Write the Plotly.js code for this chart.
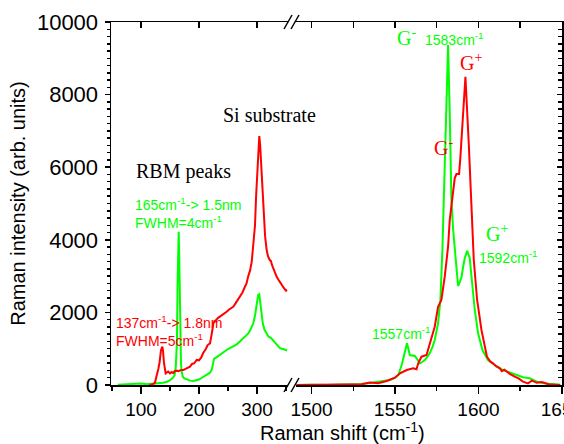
<!DOCTYPE html>
<html>
<head>
<meta charset="utf-8">
<script src="https://cdn.plot.ly/plotly-3.0.1.min.js"></script>
<style>html,body{margin:0;padding:0;background:#fff;}#chart{width:564px;height:444px;}</style>
</head>
<body>
<div id="chart"></div>
<script>
// ---- Data ----
// Low-frequency segment (RBM + Si substrate), green spectrum
const greenLowX = [60,70,80,90,100,110,120,130,138,145,150,155,158,160,162,163,164,165,166,167,168,169,170,172,175,179,185,190,195,200,205,210,215,219,222,224,226,230,236,240,245,250,255,260,265,270,275,280,285,290,294,297,300,302,304,306,308,310,313,316,320,324,328,331,335,340,345,350,352];
const greenLowY = [10,20,40,30,40,20,30,40,60,90,130,200,270,500,1200,2700,3800,4220,3500,2400,1100,600,380,230,180,150,120,110,130,150,200,250,310,340,420,620,720,760,830,880,940,990,1030,1070,1120,1190,1260,1330,1420,1560,1720,1950,2300,2480,2500,2250,1950,1700,1520,1430,1330,1300,1230,1190,1120,1010,990,960,950];
// Low-frequency segment, red spectrum
const redLowX = [115,120,124,127,130,132,134.5,136.8,138,139.7,141,142.6,145,147,150,153,155.5,158,161.5,165,168,172.8,176,180,184.5,188,192,196,200,204,207,212,215,219,221,223,224.7,227,230,233,236,240,244,247.7,252,255,259,263,267,270.7,275,279,282,285,288,291,293,296.6,298.5,300.5,302,304,305.5,307,308,310,312,314,316.7,319,322,324,326,328,331,334,337,339.7,342,345,348,350,352];
const redLowY = [0,20,60,230,450,620,960,1055,950,600,420,320,350,370,320,360,330,380,395,380,410,413,440,480,505,580,600,690,680,760,873,1000,1100,1148,1300,1500,1700,1760,1800,1850,1882,1950,1990,2019,2080,2120,2157,2250,2350,2433,2550,2700,2800,3000,3150,3400,3700,4400,5200,5900,6500,6860,6600,6100,5900,5200,4545,4100,3719,3550,3444,3420,3300,3214,3076,2980,2900,2846,2780,2700,2636,2600,2617];
// High-frequency segment (G band), green spectrum
const greenHighX = [1491,1500,1510,1520,1530,1537,1542,1547,1550,1552,1554,1555.5,1557.2,1558.9,1560.5,1561.9,1563.5,1564.9,1566.5,1567.9,1569.5,1570.8,1572.5,1573.8,1575.8,1577.2,1578.4,1579.2,1580.3,1581.8,1582.8,1583.8,1584.8,1585.8,1586.8,1587.8,1588.9,1589.9,1590.8,1591.8,1593.2,1594.8,1595.6,1596.4,1597.8,1599.8,1602.4,1605.7,1609.8,1614.7,1620.7,1626.7,1630.7,1635,1640,1645,1649];
const greenHighY = [0,10,0,20,30,70,100,138,200,275,550,850,1148,826,810,799,700,597,640,689,780,873,1050,1240,1700,2342,3719,5096,7000,9366,7500,5096,4300,3719,3100,2727,2850,2983,3250,3490,3700,3490,3100,2708,2066,1424,964,689,551,413,322,212,184,90,40,20,10];
// High-frequency segment, red spectrum
const redHighX = [1491,1500,1510,1520,1530,1535,1540,1545,1547,1550,1553,1557,1560.9,1562.9,1563.9,1565.9,1568.9,1570.8,1573.8,1575.8,1577.8,1579.8,1581.8,1582.8,1583.8,1584.8,1585.8,1586.8,1588.4,1589.2,1590.8,1592.2,1594.2,1595.8,1597.2,1599.2,1601.8,1605.1,1607,1608.7,1610.5,1612.8,1614,1615.5,1616.8,1619,1621.7,1624,1626.7,1629.7,1632,1635,1638,1642,1646,1649];
const redHighY = [0,0,10,0,20,70,50,110,138,200,322,413,460,432,597,780,826,1148,1606,2157,2342,2983,3810,4545,4900,5200,5700,5810,5810,6290,7490,8490,6650,4950,3444,2342,1515,780,650,597,520,460,380,420,367,300,230,180,92,46,120,60,80,20,10,0];

// Axis title texts
const yTitle = 'Raman intensity (arb. units)';
const xTitle = 'Raman shift (cm<sup>-1</sup>)';

const GREEN = '#00ff00';
const RED = '#ff0000';
const SANS = 'Liberation Sans, Arial, sans-serif';
const SERIF = 'Liberation Serif, Times New Roman, serif';

const traces = [
  {x: greenLowX, y: greenLowY, xaxis: 'x', yaxis: 'y', mode: 'lines', line: {color: GREEN, width: 2}, hoverinfo: 'skip'},
  {x: greenHighX, y: greenHighY, xaxis: 'x2', yaxis: 'y', mode: 'lines', line: {color: GREEN, width: 2}, hoverinfo: 'skip'},
  {x: redLowX, y: redLowY, xaxis: 'x', yaxis: 'y', mode: 'lines', line: {color: RED, width: 2}, hoverinfo: 'skip'},
  {x: redHighX, y: redHighY, xaxis: 'x2', yaxis: 'y', mode: 'lines', line: {color: RED, width: 2}, hoverinfo: 'skip'},
  // empty traces so that the mirrored frame axes (top / right) get drawn
  {x: [], y: [], xaxis: 'x3', yaxis: 'y', mode: 'lines', hoverinfo: 'skip'},
  {x: [], y: [], xaxis: 'x4', yaxis: 'y', mode: 'lines', hoverinfo: 'skip'},
  {x: [], y: [], xaxis: 'x2', yaxis: 'y2', mode: 'lines', hoverinfo: 'skip'}
];

const L = 111, R = 562, T = 22, B = 385;
const W = R - L, H = B - T;
const leftEnd = (288 - L) / W;
const rightStart = (296 - L) / W;
const lowRange = [48.3, 353.5];
const highRange = [1490.7, 1650.05];

const axBase = {
  showline: true, linecolor: '#000', linewidth: 1.5, showgrid: false, zeroline: false,
  tickcolor: '#000', tickwidth: 1.5, exponentformat: 'none', separatethousands: false
};

function px(x){ return (x - L) / W; }
function py(y){ return (B - y) / H; }

const breakShapes = [];
[[B, 7], [T, 7]].forEach(([yc, h]) => {
  [[284, 292], [291, 299]].forEach(([x0, x1]) => {
    breakShapes.push({type: 'line', xref: 'paper', yref: 'paper',
      x0: px(x0), y0: py(yc + h), x1: px(x1), y1: py(yc - h),
      line: {color: '#000', width: 1.5}});
  });
});

function ann(text, x, y, xref, color, font, size, xanchor) {
  return {text: text, x: x, y: y, xref: xref, yref: 'y', showarrow: false,
    xanchor: xanchor || 'center', yanchor: 'middle',
    font: {family: font, size: size, color: color}};
}

const annotations = [
  ann('Si substrate', 322.4, 7438, 'x', '#000', SERIF, 20),
  ann('RBM peaks', 174.1, 5895, 'x', '#000', SERIF, 20),
  ann('165cm<sup>-1</sup>-> 1.5nm', 86.2, 4986, 'x', GREEN, SANS, 14, 'left'),
  ann('FWHM=4cm<sup>-1</sup>', 86.2, 4490, 'x', GREEN, SANS, 14, 'left'),
  ann('137cm<sup>-1</sup>-> 1.8nm', 53.4, 1736, 'x', RED, SANS, 14, 'left'),
  ann('FWHM=5cm<sup>-1</sup>', 53.4, 1240, 'x', RED, SANS, 14, 'left'),
  ann('G<sup>-</sup>', 1556.6, 9587, 'x2', GREEN, SERIF, 20),
  ann('1583cm<sup>-1</sup>', 1566.8, 9540, 'x2', GREEN, SANS, 14, 'left'),
  ann('G<sup>+</sup>', 1595.5, 8898, 'x2', RED, SERIF, 20),
  ann('G<sup>-</sup>', 1579.3, 6556, 'x2', RED, SERIF, 20),
  ann('G<sup>+</sup>', 1611.1, 4187, 'x2', GREEN, SERIF, 20),
  ann('1592cm<sup>-1</sup>', 1599.1, 3526, 'x2', GREEN, SANS, 14, 'left'),
  ann('1557cm<sup>-1</sup>', 1553.6, 1433, 'x2', GREEN, SANS, 14),
  // x axis title, centred under the whole broken axis
  {text: xTitle, xref: 'paper', yref: 'paper', x: px(342), y: py(431), showarrow: false,
   xanchor: 'center', yanchor: 'middle', font: {family: SANS, size: 20, color: '#000'}}
];

const layout = {
  width: 564, height: 444,
  margin: {l: L, r: 564 - R, t: T, b: 444 - B, pad: 0},
  paper_bgcolor: '#fff', plot_bgcolor: '#fff',
  showlegend: false,
  font: {family: SANS, color: '#000'},
  xaxis: Object.assign({}, axBase, {
    domain: [0, leftEnd], range: lowRange, anchor: 'y',
    ticks: 'outside', ticklen: 7, dtick: 100, tick0: 0,
    minor: {dtick: 50, tick0: 0, ticks: 'outside', ticklen: 4, tickcolor: '#000', tickwidth: 1.5},
    tickfont: {family: SANS, size: 19, color: '#000'}
  }),
  xaxis2: Object.assign({}, axBase, {
    domain: [rightStart, 1], range: highRange, anchor: 'y',
    ticks: 'outside', ticklen: 7, dtick: 50, tick0: 0, ticklabeloverflow: 'allow',
    minor: {dtick: 25, tick0: 0, ticks: 'outside', ticklen: 4, tickcolor: '#000', tickwidth: 1.5},
    tickfont: {family: SANS, size: 19, color: '#000'}
  }),
  xaxis3: Object.assign({}, axBase, {
    domain: [0, leftEnd], range: lowRange, anchor: 'y', overlaying: 'x', side: 'top',
    ticks: 'inside', ticklen: 6, dtick: 100, tick0: 0, showticklabels: false
  }),
  xaxis4: Object.assign({}, axBase, {
    domain: [rightStart, 1], range: highRange, anchor: 'y', overlaying: 'x2', side: 'top',
    ticks: 'inside', ticklen: 6, dtick: 25, tick0: 0, showticklabels: false
  }),
  yaxis: Object.assign({}, axBase, {
    range: [0, 10000], anchor: 'x', ticks: 'outside', ticklen: 5, dtick: 2000, tick0: 0,
    ticklabelstandoff: 2, tickformat: 'd',
    minor: {dtick: 200, tick0: 0, ticks: 'outside', ticklen: 3, tickcolor: '#000', tickwidth: 1.5},
    tickfont: {family: SANS, size: 22, color: '#000'},
    title: {text: yTitle, font: {family: SANS, size: 20, color: '#000'}, standoff: 6}
  }),
  yaxis2: Object.assign({}, axBase, {
    range: [0, 10000], anchor: 'x2', overlaying: 'y', side: 'right',
    ticks: 'inside', ticklen: 5, dtick: 2000, tick0: 0, showticklabels: false,
    minor: {dtick: 200, tick0: 0, ticks: 'inside', ticklen: 4, tickcolor: '#000', tickwidth: 1.5}
  }),
  shapes: breakShapes,
  annotations: annotations
};

Plotly.newPlot('chart', traces, layout, {displayModeBar: false, staticPlot: true});
</script>
</body>
</html>
